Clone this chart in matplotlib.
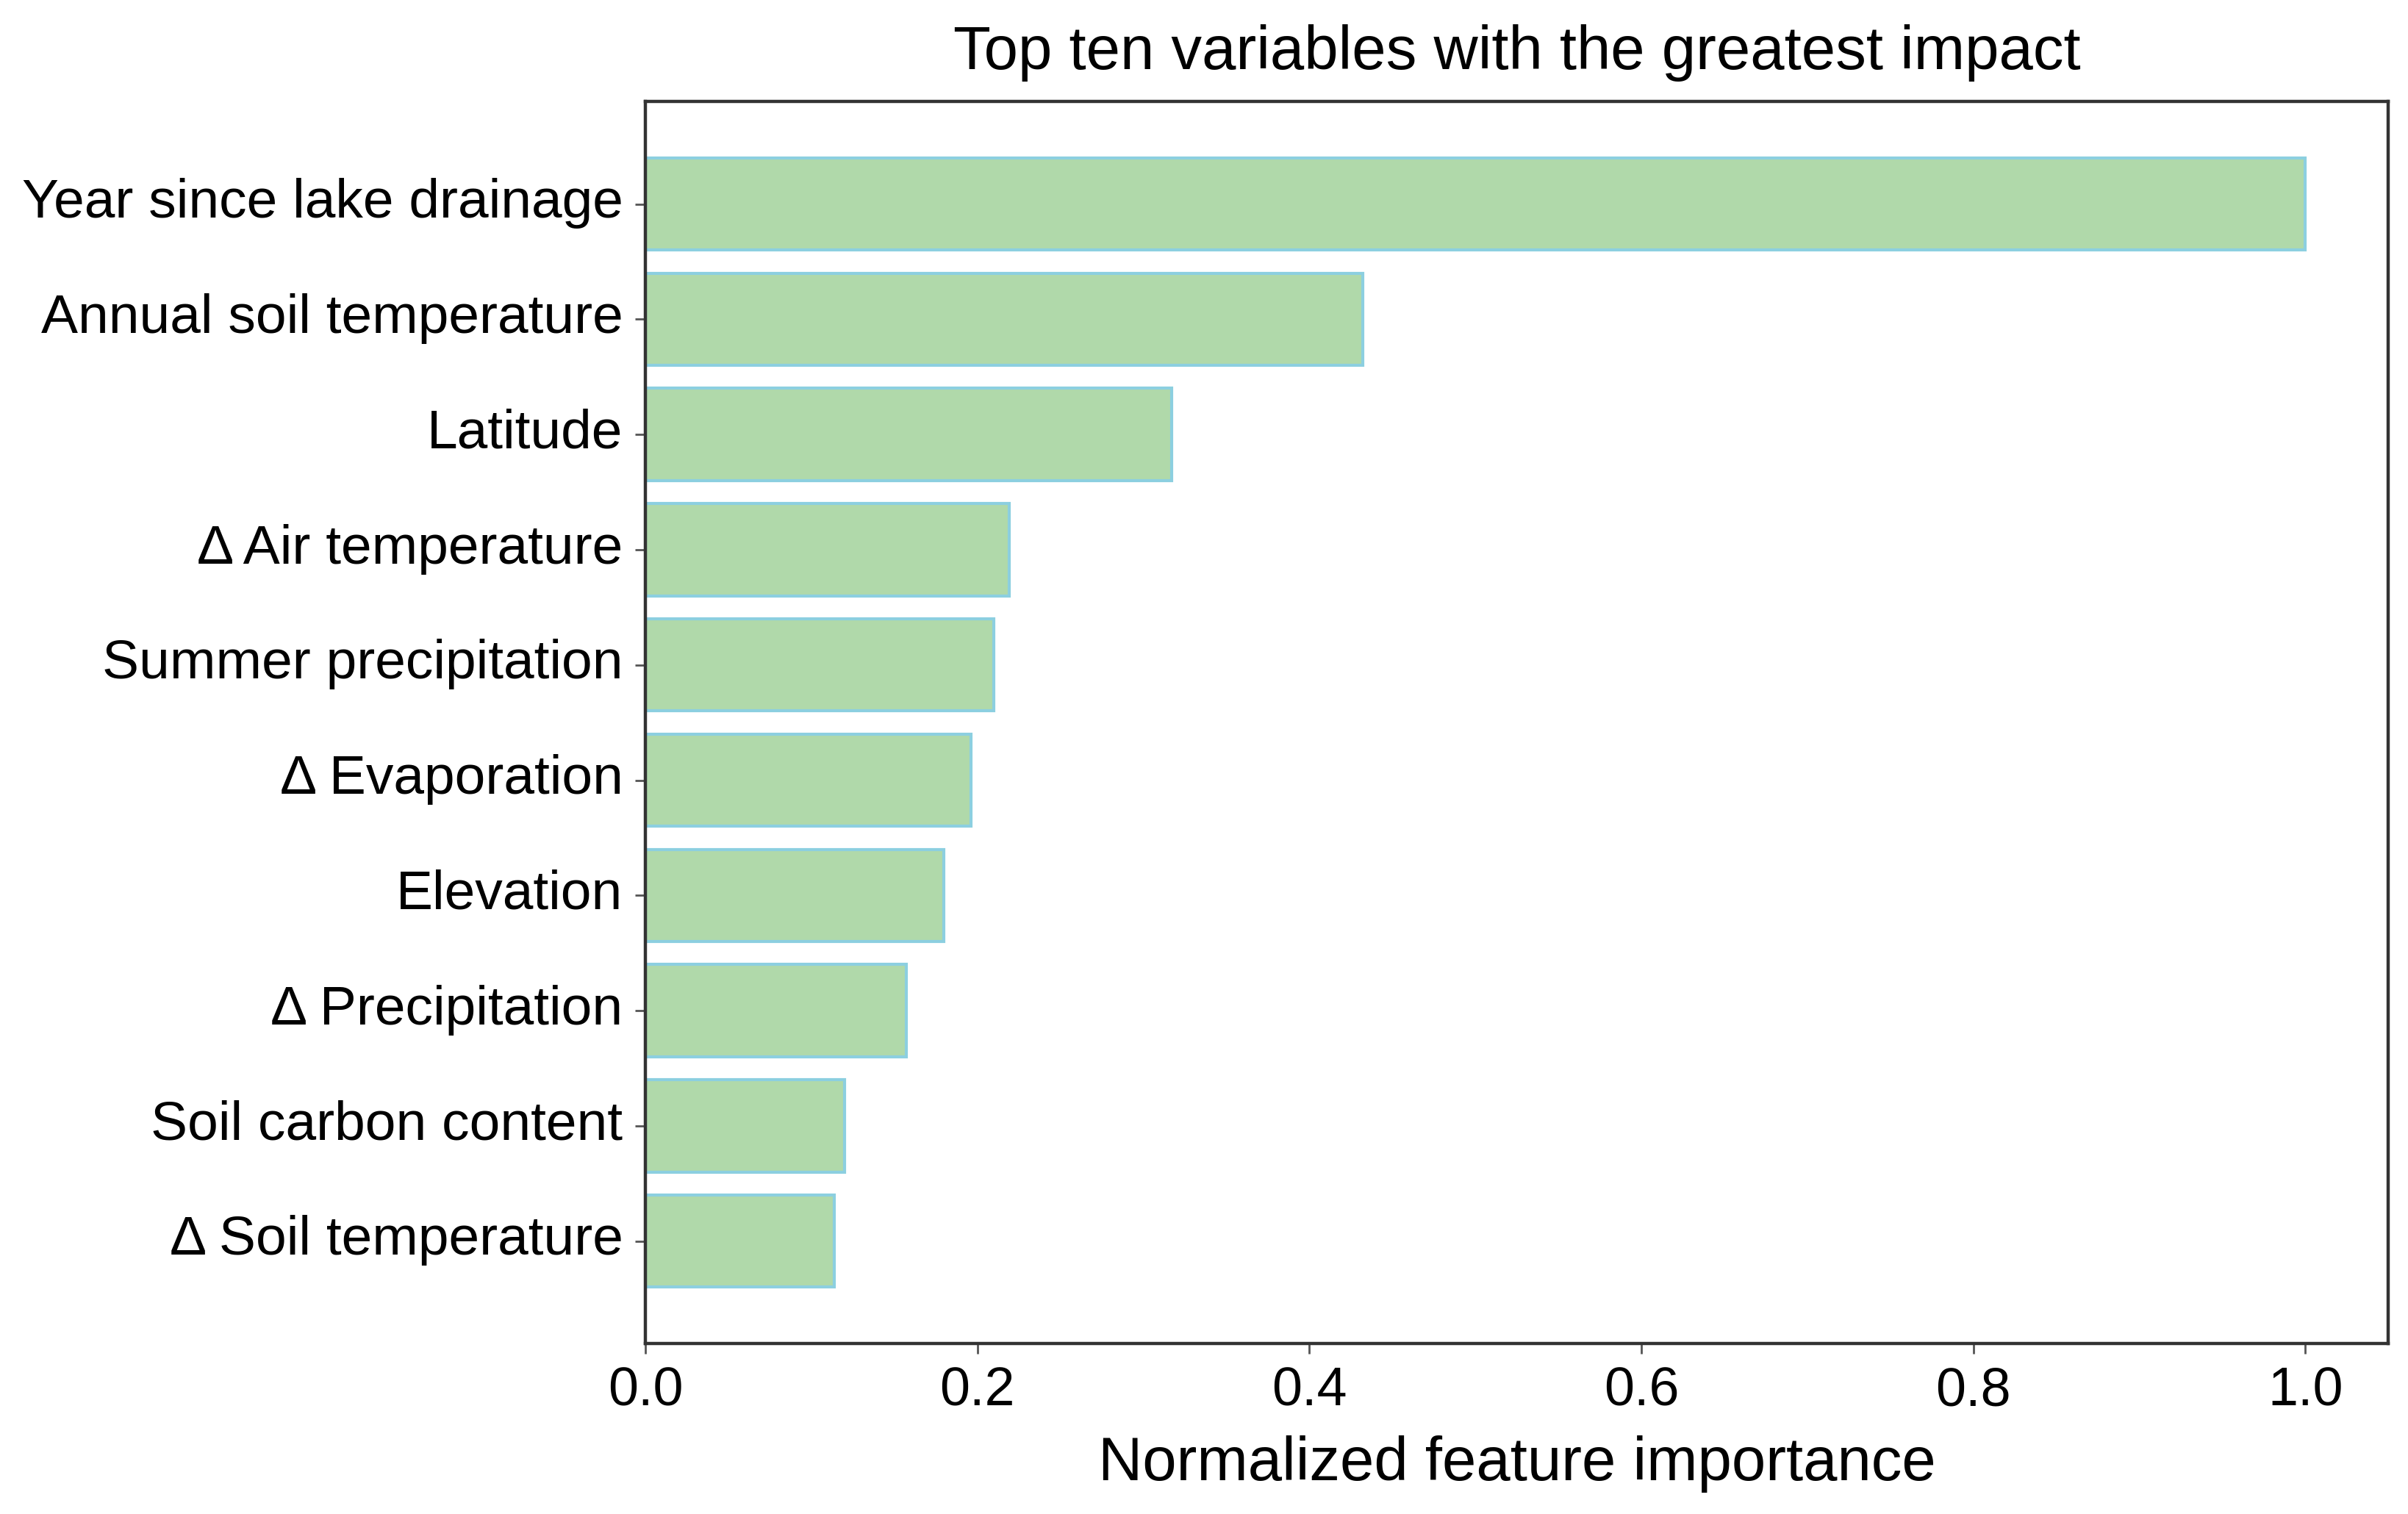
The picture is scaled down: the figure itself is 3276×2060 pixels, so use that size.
import numpy as np
import matplotlib
matplotlib.use('Agg')
import matplotlib.pyplot as plt
import matplotlib.transforms as mtransforms

plt.rcParams['font.family'] = ['Liberation Sans', 'DejaVu Sans']

# features ordered from largest to smallest importance
features = ['Year since lake drainage', 'Annual soil temperature', 'Latitude',
            '\u0394 Air temperature', 'Summer precipitation', '\u0394 Evaporation',
            'Elevation', '\u0394 Precipitation', 'Soil carbon content',
            '\u0394 Soil temperature']
importance = [1.0, 0.432, 0.317, 0.219, 0.210, 0.196, 0.180, 0.157, 0.120, 0.114]

# barh draws bottom-up, so reverse
feat_plot = features[::-1]
imp_plot = importance[::-1]

fig = plt.figure(figsize=(16.38, 10.3), dpi=200)
ax = fig.add_axes([0.268, 0.1125, 0.7238, 0.8205])
ax.barh(np.arange(len(feat_plot)), imp_plot, height=0.8,
        color='#b0d9aa', edgecolor='#8ccfe0', linewidth=1.5)
ax.set_yticks(np.arange(len(feat_plot)))
ax.set_yticklabels(feat_plot, fontsize=27)
ax.set_xticks([0.0, 0.2, 0.4, 0.6, 0.8, 1.0])
ax.set_xticklabels(['0.0', '0.2', '0.4', '0.6', '0.8', '1.0'], fontsize=26.5)
ax.set_xlabel('Normalized feature importance', fontsize=30, labelpad=9)
ax.set_title('Top ten variables with the greatest impact', fontsize=30, pad=16)
ax.tick_params(axis='both', length=5, width=1, color='#555555', pad=6)
for sp in ax.spines.values():
    sp.set_linewidth(1.6)
    sp.set_color('#333333')

# nudge y labels up a bit like the original
shift = mtransforms.ScaledTranslation(0, 3 / 72, fig.dpi_scale_trans)
for lab in ax.get_yticklabels():
    lab.set_transform(lab.get_transform() + shift)

fig.savefig('out.png', dpi=200, facecolor='white')
